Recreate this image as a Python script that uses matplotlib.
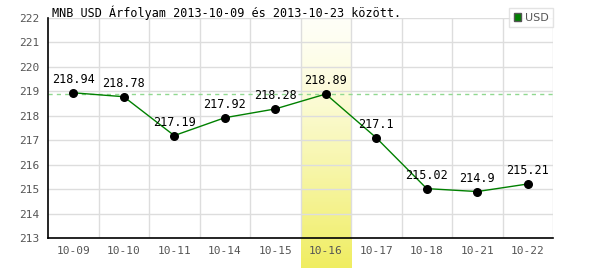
import matplotlib
matplotlib.use("Agg")
import matplotlib.pyplot as plt
import numpy as np
from matplotlib.patches import Patch

categories = ["10-09", "10-10", "10-11", "10-14", "10-15", "10-16", "10-17", "10-18", "10-21", "10-22"]
values = [218.94, 218.78, 217.19, 217.92, 218.28, 218.89, 217.1, 215.02, 214.9, 215.21]
value_labels = ["218.94", "218.78", "217.19", "217.92", "218.28", "218.89", "217.1", "215.02", "214.9", "215.21"]
yticks = [213, 214, 215, 216, 217, 218, 219, 220, 221, 222]
highlight_index = 5
ref_value = 218.89
title = "MNB USD Árfolyam 2013-10-09 és 2013-10-23 között."

mono = "DejaVu Sans Mono"

fig = plt.figure(figsize=(6, 2.7), dpi=100)
ax = fig.add_axes([48/600, 1-238/270, 505/600, 220/270])
x = np.arange(len(categories))
ax.set_xlim(-0.5, len(categories)-0.5)
ax.set_ylim(213, 222)

# highlight gradient band
grad = np.linspace(0, 1, 256) ** 1.3
top = np.array([1.0, 1.0, 0.97])
bot = np.array([0.94, 0.93, 0.38])
img = top[None, None, :] + (bot - top)[None, None, :] * grad[:, None, None]
ybottom = 213 - 30 * 9 / 220
ax.imshow(img, extent=[highlight_index-0.5, highlight_index+0.5, ybottom, 222],
          aspect="auto", origin="upper", clip_on=False, zorder=0)

# grid
for yt in yticks:
    ax.axhline(yt, color="#dddddd", lw=1, zorder=1)
for b in np.arange(0.5, len(categories)-0.5, 1):
    ax.axvline(b, color="#dddddd", lw=1, zorder=1)
ax.axvline(len(categories)-0.5, color="#dddddd", lw=1, zorder=1)

ax.axhline(ref_value, color="#90d890", lw=1, ls=(0, (3, 3)), zorder=2)

ax.plot(x, values, color="#008000", lw=1, zorder=3, label="USD")
ax.scatter(x, values, color="black", s=30, zorder=4)
for xi, v, lab in zip(x, values, value_labels):
    ax.annotate(lab, (xi, v), xytext=(0, 5), textcoords="offset points",
                ha="center", va="bottom", fontsize=8.5, family=mono, color="black", zorder=5)

ax.set_xticks(x)
ax.set_xticklabels(categories)
ax.set_yticks(yticks)
ax.tick_params(length=0, labelsize=8, labelcolor="#555555", pad=6)
for lab in ax.get_xticklabels() + ax.get_yticklabels():
    lab.set_family(mono)

for s in ["top", "right"]:
    ax.spines[s].set_visible(False)
for s in ["left", "bottom"]:
    ax.spines[s].set_color("black")
    ax.spines[s].set_linewidth(1.2)
    ax.spines[s].set_zorder(6)

leg = ax.legend(handles=[Patch(facecolor="#008000", edgecolor="#555555", label="USD")],
                loc="upper right", bbox_to_anchor=(1.0, 1.045), frameon=True,
                fancybox=False, fontsize=8, handlelength=0.7, handleheight=0.7,
                handletextpad=0.3, borderpad=0.4, borderaxespad=0)
leg.get_frame().set_edgecolor("#dddddd")
leg.get_frame().set_linewidth(1)
for t in leg.get_texts():
    t.set_color("#555555")

fig.text(52/600, 1-16.5/270, title, fontsize=8.5, family=mono, va="baseline", ha="left")

fig.savefig("out.png", dpi=100, facecolor="white")
